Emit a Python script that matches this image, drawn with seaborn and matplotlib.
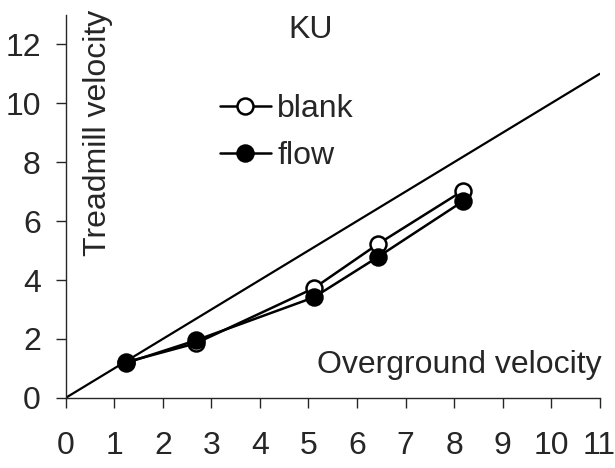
import numpy as np
import pandas as pd
import matplotlib
matplotlib.use("Agg")
import matplotlib.pyplot as plt
import seaborn as sns

# data
overground = [1.24, 2.68, 5.11, 6.43, 8.18]
blank = [1.21, 1.85, 3.72, 5.22, 7.03]
flow = [1.18, 1.95, 3.41, 4.78, 6.67]
identity = [0, 11]

sns.set_style("ticks")
plt.rcParams['font.family'] = ['Liberation Sans', 'DejaVu Sans']

df = pd.DataFrame({
    'Overground': overground * 2,
    'Treadmill': blank + flow,
    'Condition': ['blank'] * len(blank) + ['flow'] * len(flow),
})

fig = plt.figure(figsize=(6.15, 4.68), dpi=100)
ax = fig.add_axes([0.107, 0.15, 0.868, 0.818])

sns.lineplot(x=identity, y=identity, ax=ax, color='black', lw=1.6, legend=False)

sns.lineplot(data=df[df.Condition == 'blank'], x='Overground', y='Treadmill', ax=ax,
             color='black', lw=1.8, marker='o', markersize=11.5, markerfacecolor='white',
             markeredgecolor='black', markeredgewidth=1.8, label='blank')
sns.lineplot(data=df[df.Condition == 'flow'], x='Overground', y='Treadmill', ax=ax,
             color='black', lw=1.8, marker='o', markersize=11.5, markerfacecolor='black',
             markeredgecolor='black', markeredgewidth=1.8, label='flow')

fs = 23
ax.set_xlim(0, 11)
ax.set_ylim(0, 13)
ax.set_xticks(range(0, 12))
ax.set_yticks(range(0, 13, 2))
ax.tick_params(axis='x', length=7, width=1, pad=17, labelsize=fs)
ax.tick_params(axis='y', length=7, width=1, pad=11, labelsize=fs)
sns.despine(ax=ax)
for s in ['left', 'bottom']:
    ax.spines[s].set_linewidth(1)
ax.set_xlabel('')
ax.set_ylabel('')

ax.text(5.05, 12.5, 'KU', fontsize=fs, ha='center', va='center')
ax.text(0.67, 9.0, 'Treadmill velocity', fontsize=fs, rotation=90, ha='center', va='center')
ax.text(11.05, 1.12, 'Overground velocity', fontsize=fs, ha='right', va='center')

ax.legend(loc='upper left', bbox_to_anchor=(0.258, 0.835), frameon=False, fontsize=fs,
          handlelength=1.6, handletextpad=0.2, labelspacing=0.52, borderpad=0)

fig.savefig('out.png', dpi=100)
